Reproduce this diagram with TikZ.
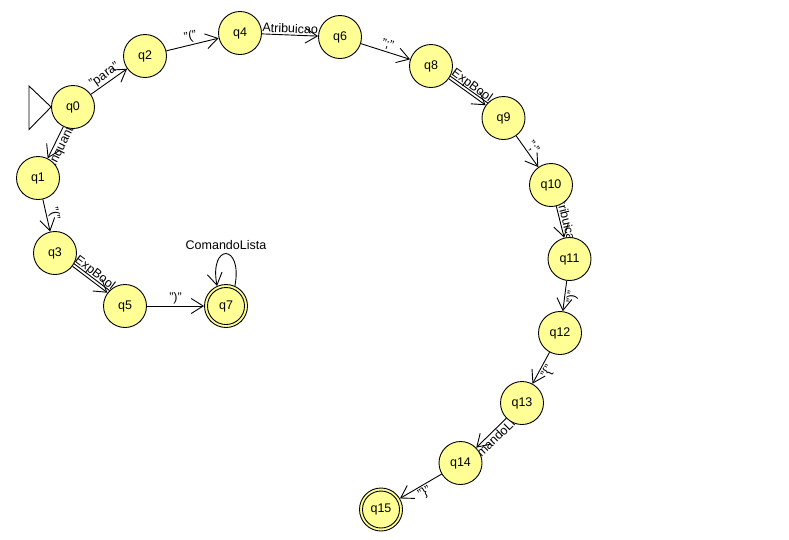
\documentclass[tikz,border=0pt]{standalone}
\usepackage{fontspec}
\setmainfont{Liberation Sans}
\usetikzlibrary{arrows.meta}
\pgfdeclarelayer{paper}
\pgfdeclarelayer{edges}
\pgfsetlayers{paper,edges,main}
\definecolor{stfill}{RGB}{255,255,150}
\begin{document}
\begin{tikzpicture}[x=1pt,y=-1pt,
  every node/.style={font=\fontsize{12.5}{14}\selectfont},
  state/.style={circle,draw=black,line width=0.9pt,fill=stfill,minimum size=43pt,inner sep=0pt},
  trans/.style={line width=0.9pt,-{Straight Barb[length=12pt,width=15pt,line width=0.9pt]}},
  lbl/.style={midway,sloped,inner sep=1.5pt}]
\begin{pgfonlayer}{paper}
\fill[white] (0,0) rectangle (789,539);
\end{pgfonlayer}
\useasboundingbox (0,0) rectangle (789,539);

% states
\node[state] (q0)  at (73,107)    {q0};
\node[state] (q1)  at (38,178)    {q1};
\node[state] (q2)  at (145,56)    {q2};
\node[state] (q3)  at (55,253)    {q3};
\node[state] (q4)  at (240,33)    {q4};
\node[state] (q5)  at (125,306)   {q5};
\node[state] (q6)  at (340,37)    {q6};
\node[state] (q7)  at (226,306)   {q7};
\node[state] (q8)  at (431,66)    {q8};
\node[state] (q9)  at (503.5,118) {q9};
\node[state] (q10) at (551,185)   {q10};
\node[state] (q11) at (569.5,259) {q11};
\node[state] (q12) at (560,333)   {q12};
\node[state] (q13) at (522,403)   {q13};
\node[state] (q14) at (460.5,463) {q14};
\node[state] (q15) at (381,509.5) {q15};

% inner rings of the final states
\draw[line width=0.9pt] (q7.center) circle[radius=18.5];
\draw[line width=0.9pt] (q15.center) circle[radius=18.5];

% start marker
\draw[line width=0.9pt] (29,86) -- (29,129.5) -- (q0.west) -- cycle;

% transitions, kept underneath the states
\begin{pgfonlayer}{edges}
\draw[trans] (q0) -- node[lbl,above] {"para"} (q2);
\draw[trans] (q2) -- node[lbl,above] {"("} (q4);
\draw[trans] (q4) -- node[lbl,above] {Atribuicao} (q6);
\draw[trans] (q6) -- node[lbl,above] {";"} (q8);
\draw[trans] (q8) -- node[lbl,above] {ExpBool} (q9);
\draw[line width=0.9pt] ([shift={(1.75,-2.45)}]q8.center) -- ([shift={(1.75,-2.45)}]q9.center);
\draw[trans] (q9) -- node[lbl,above] {";"} (q10);
\draw[trans] (q10) -- node[lbl,above] {Atribuicao} (q11);
\draw[trans] (q11) -- node[lbl,below] {")"} (q12);
\draw[trans] (q12) -- node[lbl,below] {"\{"} (q13);
\draw[trans] (q13) -- node[lbl,below] {ComandoLista} (q14);
\draw[trans] (q14) -- node[lbl,below] {"\}"} (q15);

\draw[trans] (q0) -- node[lbl,below] {Enquanto} (q1);
\draw[trans] (q1) -- node[lbl,above] {"("} (q3);
\draw[trans] (q3) -- node[lbl,above] {ExpBool} (q5);
\draw[line width=0.9pt] ([shift={(1.8,-2.4)}]q3.center) -- ([shift={(1.8,-2.4)}]q5.center);
\draw[trans] (q5) -- node[lbl,above] {")"} (q7);
\draw[trans] (q7.66) .. controls (243,243) and (209,243) .. node[above=0pt] {ComandoLista} (q7.114);
\end{pgfonlayer}
\end{tikzpicture}
\end{document}
